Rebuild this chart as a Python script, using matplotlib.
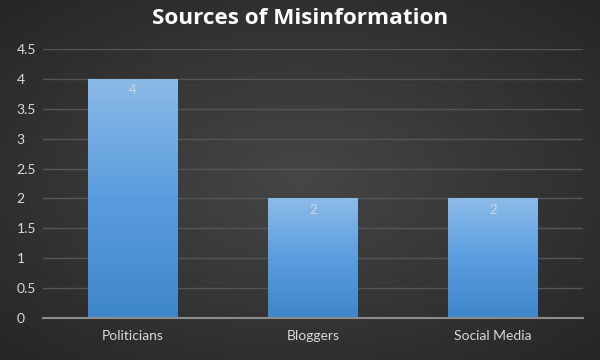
import numpy as np
from matplotlib import pyplot as plt
from matplotlib.colors import LinearSegmentedColormap

categories = ['Politicians', 'Bloggers', 'Social Media']
values = [4, 2, 2]
y_ticks = [0, 0.5, 1, 1.5, 2, 2.5, 3, 3.5, 4, 4.5]
y_tick_labels = ['0', '0.5', '1', '1.5', '2', '2.5', '3', '3.5', '4', '4.5']

plt.rcParams['font.family'] = ['Lato', 'DejaVu Sans']

fig = plt.figure(figsize=(6, 3.6), dpi=100)

# radial background
bg = fig.add_axes([0, 0, 1, 1], zorder=-10)
yy, xx = np.mgrid[-1:1:360j, -1:1:600j]
r = np.sqrt(xx**2 + yy**2)
bg_cmap = LinearSegmentedColormap.from_list('bg', ['#464646', '#272727'])
bg.imshow(r, cmap=bg_cmap, aspect='auto', extent=[0, 1, 0, 1], vmin=0, vmax=1.35)
bg.axis('off')

ax = fig.add_axes([0.0717, 0.1167, 0.9, 0.7472])
ax.set_facecolor('none')
x = np.arange(len(categories))
bars = ax.bar(x, values, width=0.5, color='none', zorder=3)

bar_cmap = LinearSegmentedColormap.from_list('bar', ['#3e86cb', '#5a9ddf', '#8cbbe8'])
grad = np.linspace(0, 1, 256).reshape(-1, 1)
for b in bars:
    x0, y0 = b.get_x(), b.get_y()
    w, h = b.get_width(), b.get_height()
    im = ax.imshow(grad, cmap=bar_cmap, aspect='auto', origin='lower',
                   extent=[x0, x0 + w, y0, y0 + h], zorder=3)
    im.set_clip_path(b)

for xi, v in zip(x, values):
    ax.annotate(str(v), (xi, v), xytext=(0, -4), textcoords='offset points',
                ha='center', va='top', color='#d4d4d4', fontsize=9.5, zorder=5)

ax.set_xlim(-0.5, 2.5)
ax.set_ylim(0, 4.5)
ax.set_yticks(y_ticks)
ax.set_yticklabels(y_tick_labels)
ax.set_xticks(x)
ax.set_xticklabels(categories)
ax.tick_params(colors='#d9d9d9', labelsize=10, length=0)
ax.tick_params(axis='y', pad=19)
ax.tick_params(axis='x', pad=9)
for lbl in ax.get_yticklabels():
    lbl.set_horizontalalignment('left')
ax.yaxis.grid(True, color='#555555', linewidth=1)
ax.set_axisbelow(True)
for s in ['top', 'right', 'left']:
    ax.spines[s].set_visible(False)
ax.spines['bottom'].set_color('#8c8c8c')
ax.spines['bottom'].set_linewidth(1.5)
ax.spines['bottom'].set_zorder(4)

fig.text(0.5, 0.948, 'Sources of Misinformation', ha='center', va='center',
         color='white', fontsize=16.2, fontweight='bold',
         family=['Open Sans', 'DejaVu Sans'])

fig.savefig('out.png', dpi=100)
